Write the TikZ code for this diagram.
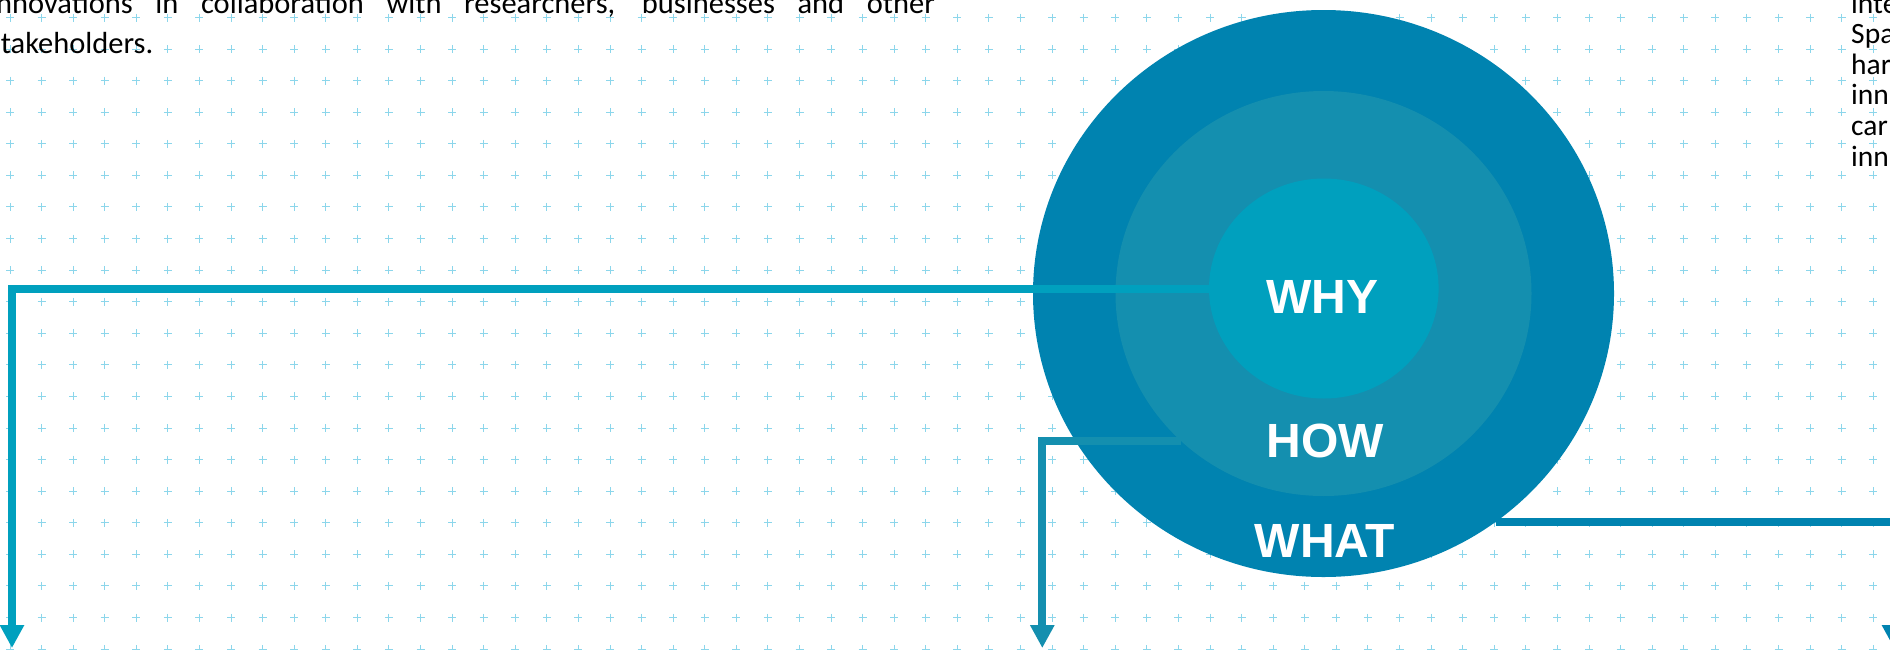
\documentclass[tikz,border=0pt]{standalone}
\usepackage{fontspec}
\setmainfont{Carlito}
\newfontfamily\labfont{Liberation Sans}
\usetikzlibrary{shapes.geometric,arrows.meta}
\definecolor{outerc}{RGB}{0,131,176}
\definecolor{midc}{RGB}{20,143,175}
\definecolor{innerc}{RGB}{0,160,190}
\definecolor{gridc}{RGB}{140,214,235}
\tikzset{
  gridmark/.style={draw=gridc, line width=1pt},
  ring/.style={ellipse, draw=none, inner sep=0pt},
  conn/.style={line width=8pt, line join=miter, -{Triangle[width=23pt,length=23pt]}},
  lab/.style={text=white, font=\labfont\bfseries\fontsize{48}{50}\selectfont, anchor=base, inner sep=0pt},
  bodytext/.style={anchor=base west, inner sep=0pt, text=black},
}
\begin{document}
\begin{tikzpicture}[x=1pt,y=-1pt]
\useasboundingbox (0,0) rectangle (1890,649);
\clip (0,0) rectangle (1890,649);
\fill[white] (0,0) rectangle (1890,649);
% grid of plus marks
\foreach \i in {0,...,59}{
  \foreach \j in {0,...,20}{
    \draw[gridmark] ({10+31.58*\i-4},{17.5+31.58*\j}) -- ++(8,0)
                    ({10+31.58*\i},{17.5+31.58*\j-4}) -- ++(0,8);
  }
}
% text blocks
\node[bodytext, font=\fontsize{30.5}{40}\selectfont] (l1) at (-11,13)
  {\makebox[946pt][s]{innovations in collaboration with researchers, businesses and other}};
\node[bodytext, font=\fontsize{30.5}{40}\selectfont] (l2) at (-11,53) {stakeholders.};
\foreach \t [count=\n] in {inte,Spa,har,inn,car,inn}{
  \node[bodytext, font=\fontsize{29.5}{30}\selectfont] (r\n) at (1851,{13+30.6*(\n-1)}) {\t};
}
% circles
\node[ring, fill=outerc, minimum width=581pt, minimum height=567pt] (outer) at (1323.5,293.5) {};
\node[ring, fill=midc, minimum width=416pt, minimum height=405pt] (mid) at (1323.5,293.5) {};
\node[ring, fill=innerc, minimum width=229.6pt, minimum height=220pt] (inner) at (1323.8,288.5) {};
% end points
\coordinate (whyend) at (12,648);
\coordinate (howend) at (1042.3,648);
\coordinate (whatend) at (1894,648);
% connectors
\draw[conn, draw=innerc] (inner.west) -| (whyend);
\draw[conn, draw=midc] (mid.226.4) -| (howend);
\draw[conn, draw=outerc] (outer.307.5) -| (whatend);
% labels
\node[lab] (why) at (1322.5,313) {WHY};
\node[lab] (how) at (1325,457) {HOW};
\node[lab] (what) at (1325,557) {WHAT};
\end{tikzpicture}
\end{document}
